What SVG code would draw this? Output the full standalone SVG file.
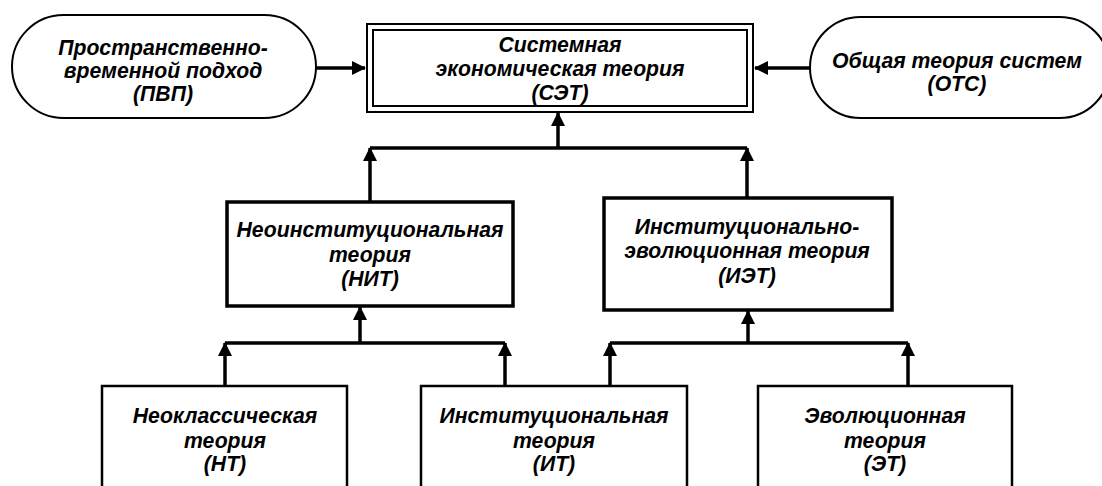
<svg xmlns="http://www.w3.org/2000/svg" width="1102" height="486" viewBox="0 0 1102 486">
<defs>
<style>
text{font-family:"Liberation Sans",Arial,sans-serif;font-weight:bold;font-style:italic;font-size:21.2px;fill:#000;text-anchor:middle}
.pill{fill:#fff;stroke:#000;stroke-width:2}
.box{fill:#fff;stroke:#000;stroke-width:3.5}
.leaf{fill:#fff;stroke:#000;stroke-width:2.5}
.dbl{fill:none;stroke:#000;stroke-width:2}
.ln{fill:none;stroke:#000;stroke-width:3.5}
</style>
<marker id="ah" markerUnits="userSpaceOnUse" markerWidth="14" markerHeight="14" viewBox="0 0 14 14" refX="13" refY="7" orient="auto">
<path d="M0,0 L14,7 L0,14 z" fill="#000"/>
</marker>
</defs>
<rect width="1102" height="486" fill="#fff"/>
<g id="connectors">
<path class="ln" d="M316,68 H365" marker-end="url(#ah)"/>
<path class="ln" d="M810,68 H755" marker-end="url(#ah)"/>
<path class="ln" d="M558,148 V113" marker-end="url(#ah)"/>
<path class="ln" d="M370,148 H747"/>
<path class="ln" d="M370,202 V148" marker-end="url(#ah)"/>
<path class="ln" d="M747,198 V148" marker-end="url(#ah)"/>
<path class="ln" d="M360,343 V307" marker-end="url(#ah)"/>
<path class="ln" d="M225,343 H505"/>
<path class="ln" d="M225,386 V343" marker-end="url(#ah)"/>
<path class="ln" d="M505,386 V343" marker-end="url(#ah)"/>
<path class="ln" d="M748,343 V311" marker-end="url(#ah)"/>
<path class="ln" d="M610,343 H908"/>
<path class="ln" d="M610,386 V343" marker-end="url(#ah)"/>
<path class="ln" d="M908,386 V343" marker-end="url(#ah)"/>
</g>
<g id="pvp">
<rect class="pill" x="12" y="15" width="304" height="103" rx="51.5"/>
<text x="163" y="55">Пространственно-</text>
<text x="163" y="78">временной подход</text>
<text x="163" y="101">(ПВП)</text>
</g>
<g id="set">
<rect class="dbl" x="367" y="24" width="386" height="88"/>
<rect class="dbl" x="373" y="30" width="374" height="76"/>
<text x="560" y="52">Системная</text>
<text x="560" y="76">экономическая теория</text>
<text x="560" y="100">(СЭТ)</text>
</g>
<g id="ots">
<rect class="pill" x="810" y="17" width="300" height="101" rx="50.5"/>
<text x="957" y="68">Общая теория систем</text>
<text x="957" y="91">(ОТС)</text>
</g>
<g id="nit">
<rect class="box" x="227" y="202" width="286" height="104"/>
<text x="370" y="237">Неоинституциональная</text>
<text x="370" y="262">теория</text>
<text x="370" y="286">(НИТ)</text>
</g>
<g id="iet">
<rect class="box" x="604" y="198" width="288" height="112"/>
<text x="747" y="234">Институционально-</text>
<text x="747" y="258">эволюционная теория</text>
<text x="747" y="283">(ИЭТ)</text>
</g>
<g id="nt">
<rect class="leaf" x="102" y="386" width="245" height="110"/>
<text x="225" y="423">Неоклассическая</text>
<text x="225" y="448">теория</text>
<text x="225" y="471">(НТ)</text>
</g>
<g id="it">
<rect class="leaf" x="421" y="386" width="266" height="110"/>
<text x="554" y="423">Институциональная</text>
<text x="554" y="448">теория</text>
<text x="554" y="471">(ИТ)</text>
</g>
<g id="et">
<rect class="leaf" x="758" y="386" width="254" height="110"/>
<text x="885" y="423">Эволюционная</text>
<text x="885" y="448">теория</text>
<text x="885" y="471">(ЭТ)</text>
</g>
</svg>
